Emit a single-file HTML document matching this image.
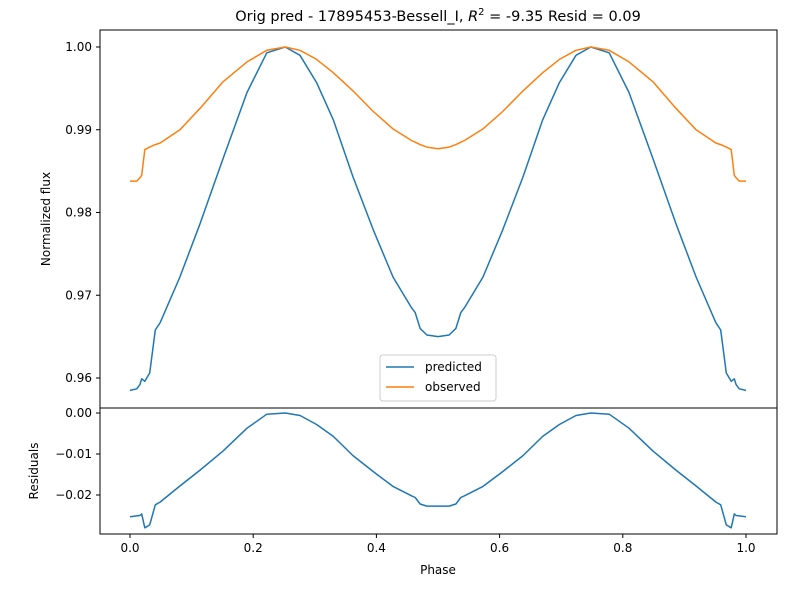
<!DOCTYPE html>
<html><head><meta charset="utf-8"><style>
body{margin:0;background:#fff;font-family:"Liberation Sans","DejaVu Sans",sans-serif;}
svg text{font-family:"DejaVu Sans","Liberation Sans",sans-serif;fill:#000;}
</style></head><body>
<svg id="chart" width="800" height="600" viewBox="0 0 800 600" xmlns="http://www.w3.org/2000/svg">
<rect width="800" height="600" fill="#fff"/>
<text x="438" y="21" font-size="14.5" text-anchor="middle">Orig pred - 17895453-Bessell_I, <tspan font-style="italic">R</tspan><tspan font-size="10" dy="-6">2</tspan><tspan dy="6"> = -9.35 Resid = 0.09</tspan></text>
<g id="topg"></g><g id="botg"></g>
<rect x="100" y="30" width="677" height="378" fill="none" stroke="#000" stroke-width="1"/>
<rect x="100" y="408" width="677" height="126" fill="none" stroke="#000" stroke-width="1"/>
<text transform="translate(50,219) rotate(-90)" font-size="12" text-anchor="middle">Normalized flux</text>
<text transform="translate(38,471) rotate(-90)" font-size="12" text-anchor="middle">Residuals</text>
<text x="438" y="574" font-size="12" text-anchor="middle">Phase</text>
<g>
<rect x="380" y="355" width="116" height="46" fill="#fff" stroke="#ccc" rx="3"/>
<line x1="386" y1="367" x2="414" y2="367" stroke="#1f77b4" stroke-width="1.5"/>
<text x="425" y="371" font-size="12">predicted</text>
<line x1="386" y1="387" x2="414" y2="387" stroke="#ff7f0e" stroke-width="1.5"/>
<text x="425" y="391" font-size="12">observed</text>
</g>
</svg>
<script>
const phases=[0,0.011,0.016,0.019,0.024,0.032,0.041,0.049,0.081,0.114,0.151,0.19,0.222,0.252,0.276,0.303,0.33,0.362,0.395,0.427,0.457,0.463,0.471,0.482,0.5,
0.518,0.529,0.537,0.543,0.573,0.605,0.638,0.67,0.697,0.724,0.748,0.778,0.81,0.849,0.886,0.919,0.951,0.959,0.968,0.976,0.981,0.984,0.989,1.0];
const predicted=[0.9585,0.9587,0.9592,0.9599,0.9596,0.9606,0.9658,0.9667,0.9722,0.9787,0.9865,0.9945,0.9993,1.0,0.9990,0.9957,0.9912,0.9843,0.9779,0.9722,0.9685,0.9679,0.9660,0.9652,0.9650,
0.9652,0.9660,0.9679,0.9685,0.9722,0.9779,0.9843,0.9912,0.9957,0.9990,1.0,0.9993,0.9945,0.9865,0.9787,0.9722,0.9667,0.9658,0.9606,0.9596,0.9599,0.9592,0.9587,0.9585];
const observed=[0.9838,0.9838,0.9842,0.9845,0.9876,0.9879,0.9882,0.9884,0.9900,0.9926,0.9958,0.9982,0.9996,1.0,0.9996,0.9985,0.9969,0.9947,0.9922,0.9901,0.9887,0.9885,0.9882,0.9879,0.9877,
0.9879,0.9882,0.9885,0.9887,0.9901,0.9922,0.9947,0.9969,0.9985,0.9996,1.0,0.9996,0.9982,0.9958,0.9926,0.9900,0.9884,0.9882,0.9879,0.9876,0.9845,0.9842,0.9838,0.9838];
const xTicks=[0,0.2,0.4,0.6,0.8,1.0];
const yTicks=[0.96,0.97,0.98,0.99,1.00];
const rTicks=[0.00,-0.01,-0.02];
const NS="http://www.w3.org/2000/svg";
const xs=p=>130+616*p;
const ys=v=>47+(1-v)*8275;
const rs=v=>413-v*4100;
function mk(t,a,parent){const e=document.createElementNS(NS,t);for(const k in a)e.setAttribute(k,a[k]);parent.appendChild(e);return e;}
const topG=document.getElementById('topg'),botG=document.getElementById('botg');
function line(vals,yf,color,parent,name){
  const d=vals.map((v,i)=>(i?'L':'M')+xs(phases[i]).toFixed(1)+','+yf(v).toFixed(1)).join('');
  const p=mk('path',{d:d,fill:'none',stroke:color,'stroke-width':1.5,'stroke-linejoin':'round'},parent);
  
  
}
line(predicted,ys,'#1f77b4',topG,'predicted-line');
line(observed,ys,'#ff7f0e',topG,'observed-line');
const resid=predicted.map((v,i)=>v-observed[i]);
line(resid,rs,'#1f77b4',botG,'residual-line');
yTicks.forEach(v=>{const y=ys(v);mk('line',{x1:96,x2:100,y1:y,y2:y,stroke:'#000'},topG);
 const t=mk('text',{x:92,y:y+4,'font-size':12,'text-anchor':'end'},topG);t.textContent=v.toFixed(2);
 
 });
rTicks.forEach(v=>{const y=rs(v);mk('line',{x1:96,x2:100,y1:y,y2:y,stroke:'#000'},botG);
 const t=mk('text',{x:92,y:y+4,'font-size':12,'text-anchor':'end'},botG);t.textContent=(v===0?'0.00':'\u2212'+Math.abs(v).toFixed(2));
 
 });
xTicks.forEach(v=>{const x=xs(v);mk('line',{x1:x,x2:x,y1:534,y2:538,stroke:'#000'},botG);
 const t=mk('text',{x:x,y:552,'font-size':12,'text-anchor':'middle'},botG);t.textContent=v.toFixed(1);
 
 });
</script>
</body></html>
